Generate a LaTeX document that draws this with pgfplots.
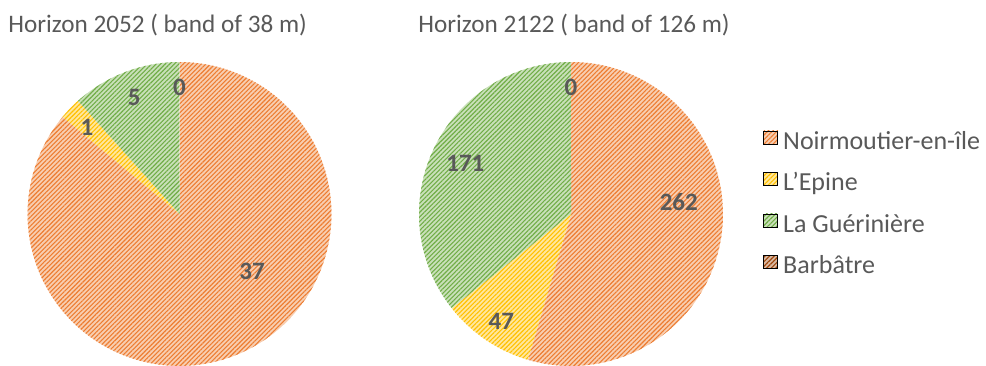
\documentclass[border=0pt]{standalone}
\usepackage{pgfplots}
\pgfplotsset{compat=1.18}
\usepackage{fontspec}
\setmainfont{Carlito}
\usetikzlibrary{patterns.meta}
\definecolor{txt}{HTML}{595959}
\definecolor{cOr}{HTML}{ED7D31}
\definecolor{cYe}{HTML}{FFC000}
\definecolor{cGr}{HTML}{70AD47}
\definecolor{cBr}{HTML}{9E480E}
\tikzset{hatch/.style={fill=#1!38!white, postaction={pattern={Lines[angle=45,distance=1.6pt,line width=0.55pt]}, pattern color=#1}},
 lab/.style={font=\fontsize{12.5}{14}\selectfont\bfseries, text=txt}}
% data: Noirmoutier-en-ile, L'Epine, La Gueriniere, Barbatre
\pgfmathsetmacro\tA{37+1+5+0}
\pgfmathsetmacro\aA{90-37/\tA*360}
\pgfmathsetmacro\bA{\aA-1/\tA*360}
\pgfmathsetmacro\cA{\bA-5/\tA*360}
\pgfmathsetmacro\tB{262+47+171+0}
\pgfmathsetmacro\aB{90-262/\tB*360}
\pgfmathsetmacro\bB{\aB-47/\tB*360}
\pgfmathsetmacro\cB{\bB-171/\tB*360}
\newcommand\slice[3]{\addplot[draw=none, hatch=#3, domain=#1:#2, samples=90, forget plot] ({cos(x)},{sin(x)}) -- (0,0) -- cycle;}
\pgfplotsset{pie/.style={scale only axis, width=152pt, height=152pt, xmin=-1, xmax=1, ymin=-1, ymax=1, hide axis, clip=false, anchor=center}}
\begin{document}
\begin{tikzpicture}
\useasboundingbox (0,0) rectangle (493pt,182.5pt);
\node[anchor=base west, font=\fontsize{12.6}{15}\selectfont, text=txt, inner sep=0pt] at (4pt,166pt) {Horizon 2052 ( band of 38 m)};
\node[anchor=base west, font=\fontsize{12.6}{15}\selectfont, text=txt, inner sep=0pt] at (209pt,166pt) {Horizon 2122 ( band of 126 m)};
\begin{axis}[pie, at={(89.75pt,75.5pt)}]
\slice{\aA}{90}{cOr}
\slice{\bA}{\aA}{cYe}
\slice{\cA}{\bA}{cGr}
\node[lab] at (0.477,-0.377) {37};
\node[lab] at (-0.609,0.570) {1};
\node[lab] at (-0.298,0.768) {5};
\node[lab] at (0,0.83) {0};
\end{axis}
\begin{axis}[pie, at={(285.5pt,75.5pt)},
 legend style={at={(1.133,0.527)}, anchor=west, draw=none, fill=none, inner sep=0pt, outer sep=0pt,
   font=\fontsize{13}{15}\selectfont, text=txt, row sep=7.8pt,
   nodes={inner sep=0pt, text height=9pt, text depth=3.5pt},
   /tikz/every odd column/.append style={column sep=2.5pt}},
 legend cell align=left,
 legend image code/.code={\path[#1] (0pt,0pt) rectangle (7pt,6.5pt);}]
\slice{\aB}{90}{cOr}
\slice{\bB}{\aB}{cYe}
\slice{\cB}{\bB}{cGr}
\node[lab] at (0.709,0.08) {262};
\node[lab] at (-0.458,-0.709) {47};
\node[lab] at (-0.695,0.33) {171};
\node[lab] at (0,0.83) {0};
\addlegendimage{hatch=cOr}\addlegendentry{Noirmoutier-en-île}
\addlegendimage{hatch=cYe}\addlegendentry{L’Epine}
\addlegendimage{hatch=cGr}\addlegendentry{La Guérinière}
\addlegendimage{hatch=cBr}\addlegendentry{Barbâtre}
\end{axis}
\end{tikzpicture}
\end{document}
